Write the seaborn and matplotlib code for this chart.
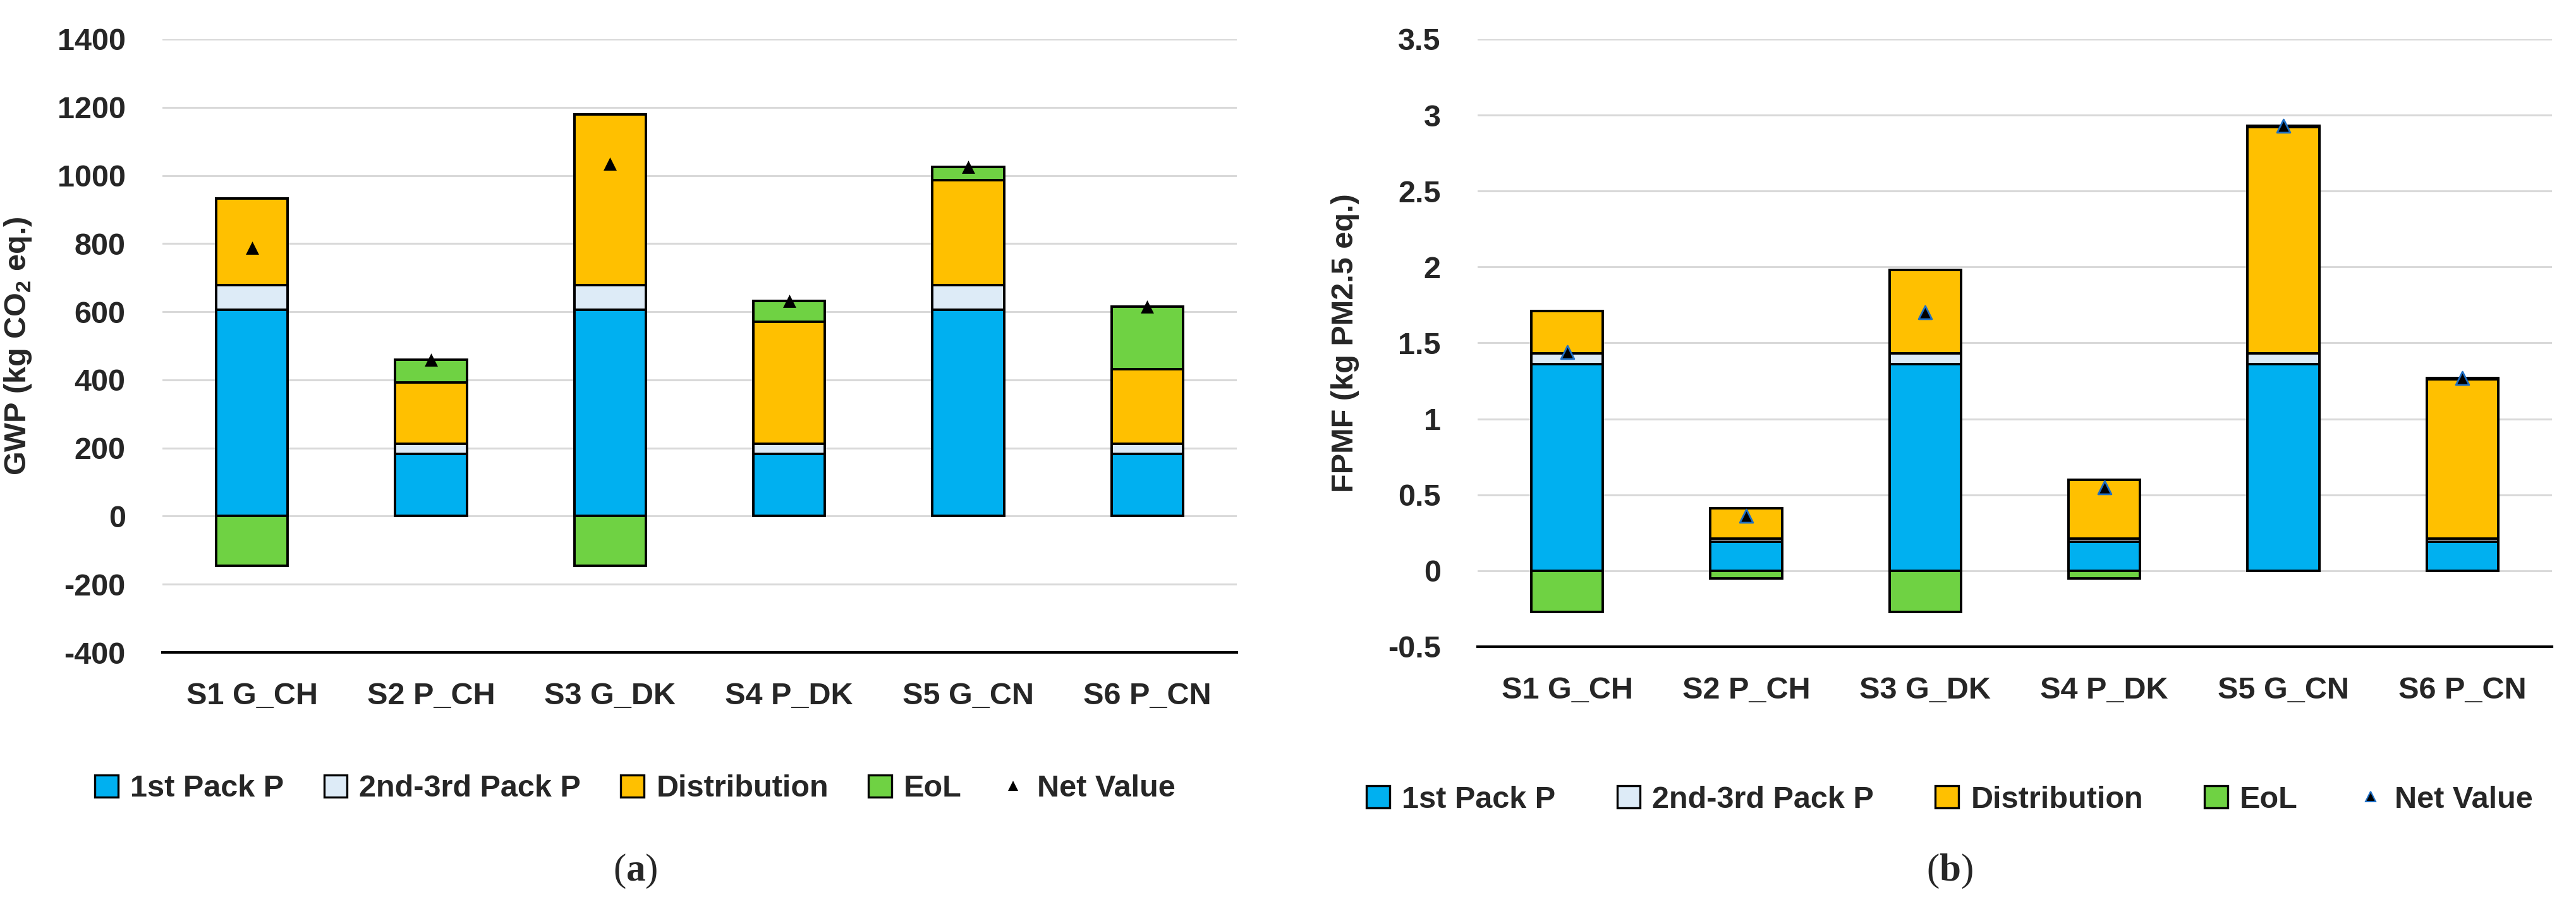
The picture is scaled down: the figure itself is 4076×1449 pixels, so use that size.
import matplotlib
matplotlib.use("Agg")
import matplotlib.pyplot as plt
from matplotlib.patches import Patch
from matplotlib.lines import Line2D
import seaborn as sns
import numpy as np

# scenario names (x axis)
scenarios = ['S1 G_CH', 'S2 P_CH', 'S3 G_DK', 'S4 P_DK', 'S5 G_CN', 'S6 P_CN']
stages = ['1st Pack P', '2nd-3rd Pack P', 'Distribution', 'EoL']

# (a) GWP, kg CO2 eq.
gwp_first = [605, 183, 605, 183, 605, 183]
gwp_second = [74, 29, 74, 29, 74, 29]
gwp_dist = [253, 180, 500, 358, 308, 220]
gwp_eol = [-145, 67, -145, 62, 39, 183]
gwp_net = [787, 459, 1034, 632, 1026, 615]

# (b) FPMF, kg PM2.5 eq.
fpmf_first = [1.36, 0.19, 1.36, 0.19, 1.36, 0.19]
fpmf_second = [0.07, 0.02, 0.07, 0.02, 0.07, 0.02]
fpmf_dist = [0.28, 0.20, 0.55, 0.39, 1.49, 1.05]
fpmf_eol = [-0.27, -0.05, -0.27, -0.05, 0.01, 0.01]
fpmf_net = [1.44, 0.36, 1.70, 0.55, 2.93, 1.27]

colors = ['#00B0F0', '#DDEBF7', '#FFC000', '#6FD243']

sns.set_style('white')
plt.rcParams['font.family'] = ['Liberation Sans', 'DejaVu Sans']
plt.rcParams['font.weight'] = 'bold'
plt.rcParams['axes.unicode_minus'] = False
plt.rcParams['mathtext.fontset'] = 'custom'
plt.rcParams['mathtext.bf'] = 'Liberation Serif:bold'
plt.rcParams['mathtext.rm'] = 'Liberation Sans:bold'

FS = 35


# Stacked bars drawn as overlapping cumulative bars (tallest first)
def stacked_panel(ax, first, second, dist, eol, net, ylim, step, ylabel, lab_x,
                  marker_edge, marker_lw):
    first, second, dist, eol = map(np.array, (first, second, dist, eol))
    c1 = first
    c2 = c1 + second
    c3 = c2 + dist
    c4 = c3 + np.clip(eol, 0, None)
    neg = np.clip(eol, None, 0)
    for vals, col in [(c4, colors[3]), (c3, colors[2]), (c2, colors[1]),
                      (c1, colors[0]), (neg, colors[3])]:
        sns.barplot(x=scenarios, y=vals, color=col, saturation=1, width=0.4,
                    edgecolor='black', linewidth=2.8, ax=ax, zorder=2)
    sns.stripplot(x=scenarios, y=net, jitter=False, marker='^', color='black',
                  size=15, edgecolor=marker_edge, linewidth=marker_lw, ax=ax,
                  zorder=4)

    ax.set_xlim(-0.5, 5.5)
    ax.set_ylim(*ylim)
    ax.set_yticks(np.arange(ylim[0], ylim[1] + step / 2, step))
    ax.yaxis.grid(True, color='#D9D9D9', linewidth=2.2)
    ax.xaxis.grid(False)
    ax.set_axisbelow(True)
    for s in ['top', 'right', 'left']:
        ax.spines[s].set_visible(False)
    ax.spines['bottom'].set_color('black')
    ax.spines['bottom'].set_linewidth(3)
    ax.tick_params(axis='y', length=0, pad=42, labelsize=FS)
    ax.tick_params(axis='x', length=0, pad=34, labelsize=FS)
    ax.set_xlabel('')
    ax.set_ylabel(ylabel, fontsize=FS, fontweight='bold')
    ax.yaxis.set_label_coords(lab_x, 0.5)


def legend_for(fig, cx, cy, marker_edge, marker_lw, spacing):
    handles = [Patch(facecolor=c, edgecolor='black', linewidth=2.4) for c in colors]
    handles.append(Line2D([], [], linestyle='none', marker='^', color='black',
                          markersize=11, markeredgecolor=marker_edge,
                          markeredgewidth=marker_lw))
    fig.legend(handles, stages + ['Net Value'], loc='center', ncol=5,
               bbox_to_anchor=(cx, cy), frameon=False, fontsize=FS,
               handlelength=0.75, handleheight=0.75, handletextpad=0.4,
               columnspacing=spacing)


W, H = 4076, 1449
fig = plt.figure(figsize=(W / 100, H / 100), dpi=100)

ax1 = fig.add_axes([257 / W, 1 - 1032 / H, 1700 / W, 970 / H])
stacked_panel(ax1, gwp_first, gwp_second, gwp_dist, gwp_eol, gwp_net,
              (-400, 1400), 200, 'GWP (kg CO$_\\mathregular{2}$ eq.)', -0.12,
              'black', 0)

ax2 = fig.add_axes([2338 / W, 1 - 1023 / H, 1700 / W, 961 / H])
stacked_panel(ax2, fpmf_first, fpmf_second, fpmf_dist, fpmf_eol, fpmf_net,
              (-0.5, 3.5), 0.5, 'FPMF (kg PM2.5 eq.)', -0.11,
              '#1F6FC5', 2)
ax2.set_yticklabels(['-0.5', '0', '0.5', '1', '1.5', '2', '2.5', '3', '3.5'])

legend_for(fig, 1005 / W, 1 - 1248 / H, 'black', 0, 1.3)
legend_for(fig, 3085 / W, 1 - 1265 / H, '#1F6FC5', 1.5, 2.0)

# panel captions
fig.text(1005 / W, 1 - 1378 / H, '($\\mathbf{a}$)', ha='center', va='center',
         fontsize=44, family='Liberation Serif', fontweight='normal')
fig.text(3085 / W, 1 - 1378 / H, '($\\mathbf{b}$)', ha='center', va='center',
         fontsize=44, family='Liberation Serif', fontweight='normal')

fig.savefig('out.png', dpi=100)
